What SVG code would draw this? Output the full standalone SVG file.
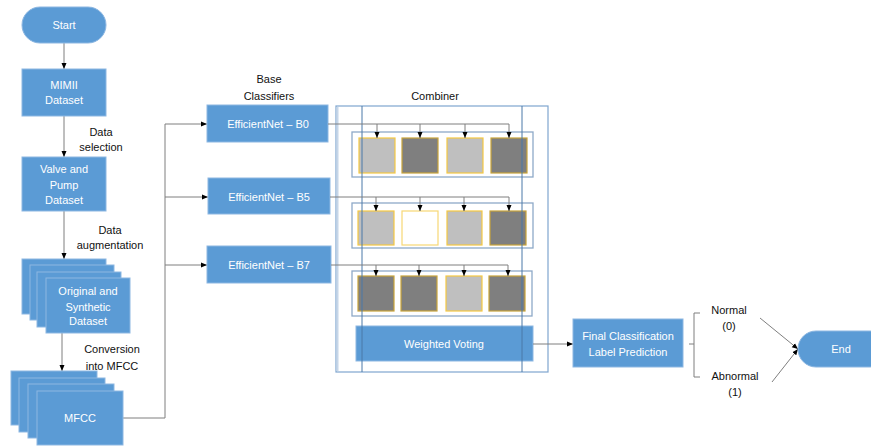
<svg xmlns="http://www.w3.org/2000/svg" width="871" height="447" viewBox="0 0 871 447">
<defs>
<marker id="arr" markerUnits="userSpaceOnUse" markerWidth="6" markerHeight="6" viewBox="0 0 6 6" refX="6" refY="3" orient="auto">
<path d="M0,0.5 L6,3 L0,5.5 Z" fill="#000"/>
</marker>
<style>
.box{fill:#5B9BD5;stroke:#8DB7E2;stroke-width:1}
.wt{font-family:"Liberation Sans",Arial,sans-serif;font-size:11px;fill:#fff;text-anchor:middle}
.bt{font-family:"Liberation Sans",Arial,sans-serif;font-size:11px;fill:#111;text-anchor:middle}
.ln{fill:none;stroke:#7F7F7F;stroke-width:1}
.la{fill:none;stroke:#7F7F7F;stroke-width:1;marker-end:url(#arr)}
.grp{fill:#fff;stroke:#8EA9C8;stroke-width:1.3}
.lg{fill:#BFBFBF;stroke:#F5C842;stroke-width:1.2}
.dk{fill:#7F7F7F;stroke:#C9A43A;stroke-width:1.2}
.wh{fill:#fff;stroke:#F7D874;stroke-width:1.2}
</style>
</defs>
<rect width="871" height="447" fill="#fff"/>

<g id="connectors">
<line class="la" x1="64" y1="43" x2="64" y2="69"/>
<line class="la" x1="64" y1="116" x2="64" y2="157"/>
<line class="la" x1="64" y1="211" x2="64" y2="259"/>
<line class="la" x1="62" y1="333" x2="62" y2="371"/>
<polyline class="la" points="123,418 165,418 165,124 207,124"/>
<line class="la" x1="165" y1="197" x2="208" y2="197"/>
<line class="la" x1="165" y1="265" x2="207" y2="265"/>
</g>

<g id="start">
<rect class="box" x="22" y="7" width="84" height="36" rx="18"/>
<text class="wt" x="64" y="29">Start</text>
</g>
<g id="mimii">
<rect class="box" x="22" y="69" width="84" height="47"/>
<text class="wt" x="64" y="89">MIMII</text>
<text class="wt" x="64" y="104">Dataset</text>
</g>
<text class="bt" x="101" y="136">Data</text>
<text class="bt" x="101" y="151">selection</text>
<g id="valve">
<rect class="box" x="22" y="157" width="84" height="54"/>
<text class="wt" x="64" y="173">Valve and</text>
<text class="wt" x="64" y="189">Pump</text>
<text class="wt" x="64" y="204">Dataset</text>
</g>
<text class="bt" x="110" y="234">Data</text>
<text class="bt" x="110" y="249">augmentation</text>
<g id="original">
<rect class="box" x="22" y="259" width="84" height="55"/>
<rect class="box" x="30" y="265" width="84" height="55"/>
<rect class="box" x="37" y="272" width="84" height="55"/>
<rect class="box" x="46" y="278" width="84" height="55"/>
<text class="wt" x="88" y="295">Original and</text>
<text class="wt" x="88" y="311">Synthetic</text>
<text class="wt" x="88" y="325">Dataset</text>
</g>
<text class="bt" x="112" y="353">Conversion</text>
<text class="bt" x="112" y="370">into MFCC</text>
<g id="mfcc">
<rect class="box" x="11" y="371" width="86" height="54"/>
<rect class="box" x="19" y="378" width="86" height="54"/>
<rect class="box" x="28" y="384" width="86" height="54"/>
<rect class="box" x="37" y="391" width="86" height="54"/>
<text class="wt" x="80" y="422">MFCC</text>
</g>

<text class="bt" x="269" y="83">Base</text>
<text class="bt" x="269" y="100">Classifiers</text>
<g id="b0">
<rect class="box" x="207" y="105" width="121" height="37"/>
<text class="wt" x="268" y="128">EfficientNet – B0</text>
</g>
<g id="b5">
<rect class="box" x="208" y="178" width="122" height="36"/>
<text class="wt" x="269" y="201">EfficientNet – B5</text>
</g>
<g id="b7">
<rect class="box" x="207" y="246" width="124" height="37"/>
<text class="wt" x="269" y="269">EfficientNet – B7</text>
</g>

<g id="combiner">
<text class="bt" x="435" y="100">Combiner</text>
<rect x="336" y="106" width="212" height="266" fill="#fff" stroke="#7FA6CF" stroke-width="1.2"/>
<line x1="337.5" y1="107" x2="337.5" y2="371" stroke="#C6D6E8" stroke-width="2"/>
<g id="row1">
<rect class="grp" x="352" y="132" width="181" height="45"/>
<rect class="lg" x="359" y="138" width="36" height="35"/>
<rect class="dk" x="402" y="138" width="36" height="35"/>
<rect class="lg" x="447" y="138" width="36" height="35"/>
<rect class="dk" x="491" y="138" width="36" height="35"/>
</g>
<g id="row2">
<rect class="grp" x="352" y="203" width="181" height="45"/>
<rect class="lg" x="358" y="211" width="36" height="34"/>
<rect class="wh" x="402" y="211" width="36" height="34"/>
<rect class="lg" x="447" y="211" width="35" height="34"/>
<rect class="dk" x="490" y="211" width="36" height="34"/>
</g>
<g id="row3">
<rect class="grp" x="352" y="271" width="180" height="45"/>
<rect class="dk" x="358" y="276" width="36" height="35"/>
<rect class="dk" x="401" y="276" width="36" height="35"/>
<rect class="lg" x="446" y="276" width="36" height="35"/>
<rect class="dk" x="489" y="276" width="36" height="35"/>
</g>
<g id="weighted">
<rect class="box" x="356" y="326" width="177" height="35"/>
<text class="wt" x="444" y="348">Weighted Voting</text>
</g>
<line x1="362" y1="106" x2="362" y2="372" stroke="#4A78A8" stroke-width="1"/>
<line x1="522" y1="106" x2="522" y2="372" stroke="#4A78A8" stroke-width="1"/>
</g>

<g id="connectors2">
<polyline class="ln" points="328,124 509,124"/>
<line class="la" x1="377" y1="124" x2="377" y2="138"/>
<line class="la" x1="420" y1="124" x2="420" y2="138"/>
<line class="la" x1="465" y1="124" x2="465" y2="138"/>
<line class="la" x1="509" y1="124" x2="509" y2="138"/>
<polyline class="ln" points="330,197 509,197"/>
<line class="la" x1="376" y1="197" x2="376" y2="211"/>
<line class="la" x1="420" y1="197" x2="420" y2="211"/>
<line class="la" x1="464" y1="197" x2="464" y2="211"/>
<line class="la" x1="509" y1="197" x2="509" y2="211"/>
<polyline class="ln" points="331,265 508,265"/>
<line class="la" x1="376" y1="265" x2="376" y2="276"/>
<line class="la" x1="419" y1="265" x2="419" y2="276"/>
<line class="la" x1="464" y1="265" x2="464" y2="276"/>
<line class="la" x1="508" y1="265" x2="508" y2="276"/>
<line class="la" x1="533" y1="344" x2="573" y2="344"/>
<path class="ln" d="M700,313 H694 V377 H700 M689,344 H694"/>
<line class="la" x1="760" y1="318" x2="798" y2="349"/>
<line class="la" x1="772" y1="382" x2="798" y2="349"/>
</g>

<g id="final">
<rect class="box" x="573" y="319" width="110" height="48"/>
<text class="wt" x="628" y="340">Final Classification</text>
<text class="wt" x="628" y="356">Label Prediction</text>
</g>
<text class="bt" x="729" y="314">Normal</text>
<text class="bt" x="729" y="330">(0)</text>
<text class="bt" x="735" y="380">Abnormal</text>
<text class="bt" x="735" y="396">(1)</text>
<g id="end">
<rect class="box" x="798" y="331" width="90" height="36" rx="18"/>
<text class="wt" x="841" y="353">End</text>
</g>
</svg>
